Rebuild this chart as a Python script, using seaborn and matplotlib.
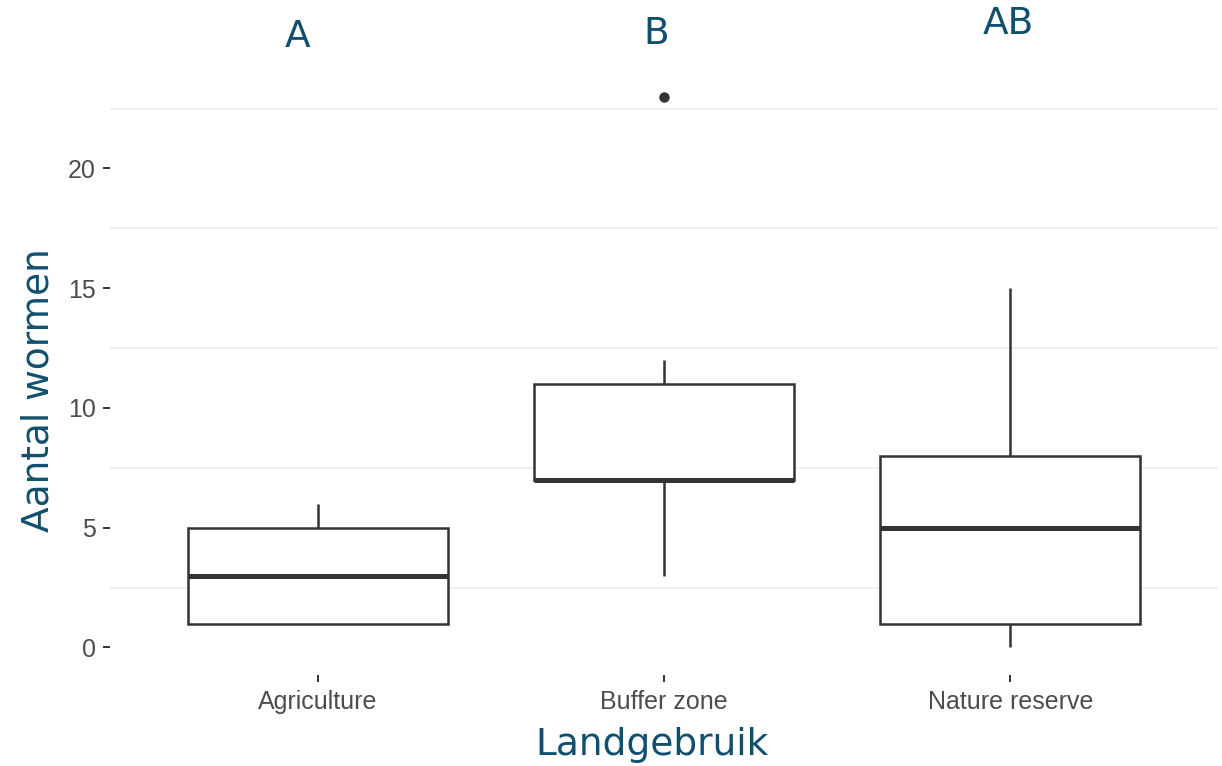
import numpy as np
import pandas as pd
import matplotlib
matplotlib.use("Agg")
import matplotlib.pyplot as plt
import seaborn as sns

# Worm counts per land-use type
categories = ["Agriculture", "Buffer zone", "Nature reserve"]
agriculture = [1, 1, 1, 3, 5, 5, 6]
buffer_zone = [3, 7, 7, 7, 7, 11, 11, 12, 23]
nature_reserve = [0, 1, 1, 5, 8, 8, 15]

# Compact letter display from the post-hoc test
group_letters = ["A", "B", "AB"]
letter_x = [-0.058, 0.977, 1.995]
letter_y = [25.47, 25.63, 26.01]

df = pd.DataFrame({
    "Landgebruik": ([categories[0]] * len(agriculture)
                    + [categories[1]] * len(buffer_zone)
                    + [categories[2]] * len(nature_reserve)),
    "Aantal wormen": agriculture + buffer_zone + nature_reserve,
})

sns.set_theme(style="white")
plt.rcParams["font.family"] = ["DejaVu Sans"]

title_color = "#10506e"
line_color = "#333333"

fig = plt.figure(figsize=(12.22, 7.66), dpi=100)
ax = fig.add_axes([110 / 1222, 1 - 675 / 766, 1108 / 1222, 606 / 766])

sns.boxplot(
    data=df, x="Landgebruik", y="Aantal wormen", ax=ax,
    order=categories, color="white", linecolor=line_color,
    linewidth=1.8, width=0.75, showcaps=False, saturation=1,
    medianprops=dict(linewidth=3.6, color=line_color),
    flierprops=dict(marker="o", markersize=6.5, markerfacecolor=line_color,
                    markeredgecolor=line_color),
)

ax.set_xlim(-0.6, 2.6)
ax.set_ylim(-1.15, 24.15)
ax.set_yticks([0, 5, 10, 15, 20])
ax.set_yticks(np.arange(2.5, 23, 5), minor=True)
ax.grid(False)
ax.grid(True, which="minor", axis="y", color="#ebebeb", linewidth=1.1)
ax.set_axisbelow(True)
for s in ax.spines.values():
    s.set_visible(False)

ax.tick_params(axis="both", which="major", length=5, width=1.4,
               color=line_color, labelcolor="#4d4d4d", labelsize=18)
ax.tick_params(axis="y", which="major", left=True, pad=5)
ax.tick_params(axis="x", which="major", bottom=True, pad=6)
ax.tick_params(which="minor", length=0)
for lbl in ax.get_xticklabels() + ax.get_yticklabels():
    lbl.set_fontfamily(["Liberation Sans", "DejaVu Sans"])

ax.set_xlabel("Landgebruik", fontsize=27, color=title_color)
ax.set_ylabel("Aantal wormen", fontsize=27, color=title_color)
ax.xaxis.set_label_coords((652 - 110) / 1108, -0.085)
ax.yaxis.set_label_coords(-0.048, 0.47)

for x, y, t in zip(letter_x, letter_y, group_letters):
    ax.text(x, y, t, ha="center", va="center", fontsize=27,
            color=title_color, clip_on=False)

fig.savefig("out.png", dpi=100, facecolor="white")
